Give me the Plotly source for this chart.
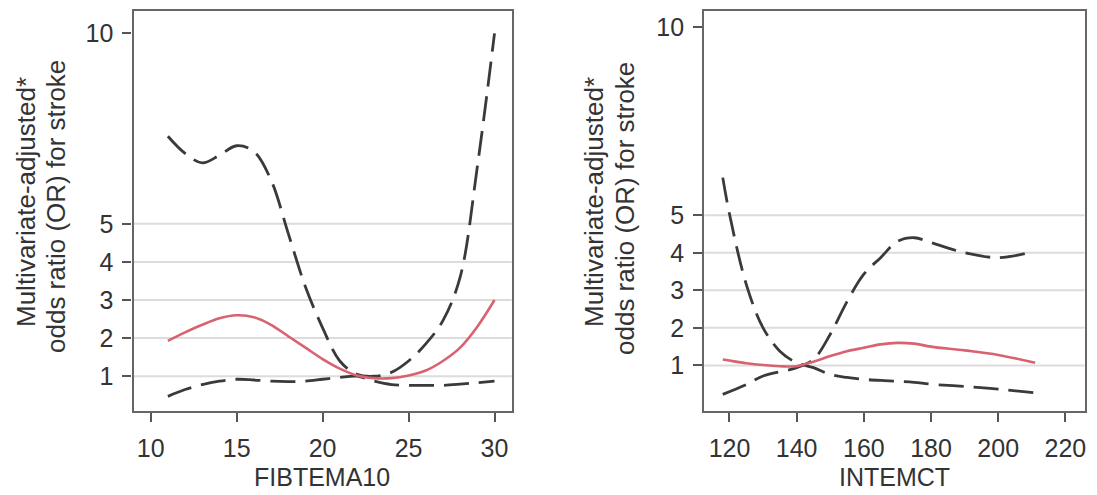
import plotly.graph_objects as go

# ---------------- data ----------------
fib_x = [11, 12, 13, 14, 15, 16, 17, 18, 19, 20, 21, 22, 23, 24, 25, 26, 27, 28, 29, 30]
fib_or = [1.93, 2.15, 2.35, 2.52, 2.6, 2.55, 2.35, 2.05, 1.75, 1.45, 1.2, 1.02, 0.95, 0.95, 1.02, 1.15, 1.4, 1.75, 2.3, 3.0]
fib_upper = [7.3, 6.85, 6.6, 6.8, 7.05, 6.9, 6.15, 4.75, 3.35, 2.27, 1.4, 1.05, 1.0, 1.1, 1.4, 1.85, 2.46, 3.6, 6.5, 10.0]
fib_lower = [0.47, 0.65, 0.78, 0.87, 0.92, 0.9, 0.87, 0.86, 0.87, 0.92, 0.97, 1.0, 0.87, 0.78, 0.76, 0.76, 0.76, 0.79, 0.83, 0.87]

int_x = [118, 120, 125, 130, 135, 140, 145, 150, 155, 160, 165, 170, 175, 180, 190, 200, 211]
int_or = [1.16, 1.13, 1.06, 1.01, 0.98, 0.98, 1.1, 1.25, 1.38, 1.47, 1.56, 1.6, 1.58, 1.5, 1.4, 1.28, 1.07]
int_upper = [6.0, 5.03, 3.16, 2.0, 1.38, 1.07, 0.94, 0.76, 0.68, 0.63, 0.6, 0.58, 0.55, 0.5, 0.44, 0.37, 0.27]
int_lower_x = [118, 125, 130, 140, 145, 150, 155, 160, 165, 170, 175, 180, 190, 200, 208]
int_lower = [0.23, 0.49, 0.72, 0.94, 1.16, 1.83, 2.7, 3.43, 3.87, 4.3, 4.4, 4.27, 4.0, 3.87, 3.98]

y_ticks = [1, 2, 3, 4, 5, 10]
grid_vals = [1, 2, 3, 4, 5]
fib_ticks = [10, 15, 20, 25, 30]
int_ticks = [120, 140, 160, 180, 200, 220]
y_title_1 = "Multivariate-adjusted*"
y_title_2 = "odds ratio (OR) for stroke"

# ---------------- styles ----------------
FONT = "Liberation Sans, Arial, sans-serif"
TXT = "#333333"
RED = "#d8626f"
DASHC = "#3a3a3a"
DASH = "25px,10px"

fig = go.Figure()

def add_panel(xs, orv, up, lo_x, lo, xa, ya):
    fig.add_trace(go.Scatter(x=xs, y=up, mode="lines", line=dict(color=DASHC, width=2.8, dash=DASH, shape="spline"),
                             xaxis=xa, yaxis=ya, showlegend=False, hoverinfo="skip"))
    fig.add_trace(go.Scatter(x=lo_x, y=lo, mode="lines", line=dict(color=DASHC, width=2.8, dash=DASH, shape="spline"),
                             xaxis=xa, yaxis=ya, showlegend=False, hoverinfo="skip"))
    fig.add_trace(go.Scatter(x=xs, y=orv, mode="lines", line=dict(color=RED, width=2.6, shape="spline"),
                             xaxis=xa, yaxis=ya, showlegend=False, hoverinfo="skip"))

add_panel(fib_x, fib_or, fib_upper, fib_x, fib_lower, "x", "y")
add_panel(int_x, int_or, int_upper, int_lower_x, int_lower, "x2", "y2")

ax_common = dict(showgrid=False, zeroline=False, showline=True, linecolor="#666666", linewidth=2.4,
                 mirror=True, ticks="outside", ticklen=9, tickwidth=1.6, tickcolor="#555555",
                 tickfont=dict(family=FONT, size=25, color=TXT), automargin=False)

ydom = [1 - 410.5 / 495, 1 - 10.5 / 495]
fig.update_layout(
    width=1097, height=495, margin=dict(l=0, r=0, t=0, b=0),
    paper_bgcolor="white", plot_bgcolor="white",
    xaxis=dict(domain=[133.5 / 1097, 511.7 / 1097], range=[9, 31], tickvals=fib_ticks, anchor="y",
               ticklabelstandoff=5, **ax_common),
    yaxis=dict(domain=ydom, range=[0.1, 10.6], tickvals=y_ticks, anchor="x",
               ticklabelstandoff=4, **ax_common),
    xaxis2=dict(domain=[704.3 / 1097, 1084.5 / 1097], range=[112.5, 225.7], tickvals=int_ticks, anchor="y2",
                ticklabelstandoff=5, **ax_common),
    yaxis2=dict(domain=ydom, range=[-0.2, 10.45], tickvals=y_ticks, anchor="x2",
                ticklabelstandoff=4, **ax_common),
)

shapes = []
for xr, yr in (("x domain", "y"), ("x2 domain", "y2")):
    for g in grid_vals:
        shapes.append(dict(type="line", xref=xr, yref=yr, x0=0, x1=1, y0=g, y1=g,
                           line=dict(color="#dcdcdc", width=2), layer="below"))
fig.update_layout(shapes=shapes)

ann = []
tf = dict(family=FONT, size=25, color=TXT)
yf = dict(family=FONT, size=26, color=TXT)
# x titles
ann.append(dict(text="FIBTEMA10", x=322 / 1097, y=1 - 477 / 495, xref="paper", yref="paper",
                xanchor="center", yanchor="middle", showarrow=False, font=tf))
ann.append(dict(text="INTEMCT", x=894 / 1097, y=1 - 477 / 495, xref="paper", yref="paper",
                xanchor="center", yanchor="middle", showarrow=False, font=tf))
# y titles (two lines each)
for x1, x2, c1, c2 in ((26, 56, 202, 207), (594, 625, 202, 209)):
    ann.append(dict(text=y_title_1, x=x1 / 1097, y=1 - c1 / 495, xref="paper", yref="paper", textangle=-90,
                    xanchor="center", yanchor="middle", showarrow=False, font=yf))
    ann.append(dict(text=y_title_2, x=x2 / 1097, y=1 - c2 / 495, xref="paper", yref="paper", textangle=-90,
                    xanchor="center", yanchor="middle", showarrow=False, font=yf))
fig.update_layout(annotations=ann)

fig.write_html(
    "out.html",
    config={"displayModeBar": False},
    post_script="document.body.style.margin='0px';document.body.style.overflow='hidden';"
                "document.documentElement.style.overflow='hidden';",
)
